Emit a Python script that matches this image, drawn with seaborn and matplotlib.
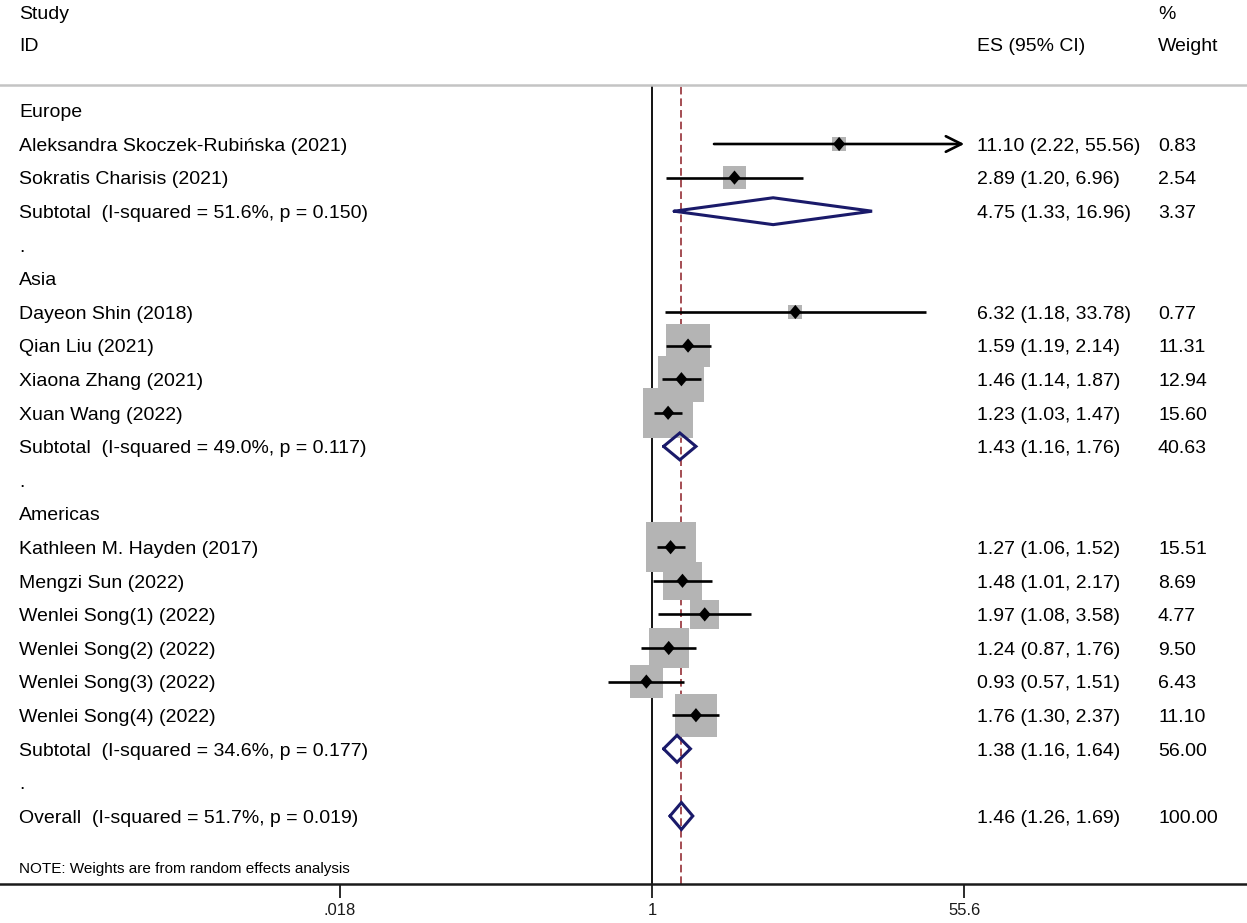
import numpy as np
import pandas as pd
import matplotlib
matplotlib.use("Agg")
import matplotlib.pyplot as plt
import seaborn as sns

# ---- data ----
groups = ["Europe", "Asia", "Americas"]

study_ids = [
    ["Aleksandra Skoczek-Rubińska (2021)", "Sokratis Charisis (2021)"],
    ["Dayeon Shin (2018)", "Qian Liu (2021)", "Xiaona Zhang (2021)", "Xuan Wang (2022)"],
    ["Kathleen M. Hayden (2017)", "Mengzi Sun (2022)", "Wenlei Song(1) (2022)",
     "Wenlei Song(2) (2022)", "Wenlei Song(3) (2022)", "Wenlei Song(4) (2022)"],
]
study_es = [[11.10, 2.89], [6.32, 1.59, 1.46, 1.23], [1.27, 1.48, 1.97, 1.24, 0.93, 1.76]]
study_lo = [[2.22, 1.20], [1.18, 1.19, 1.14, 1.03], [1.06, 1.01, 1.08, 0.87, 0.57, 1.30]]
study_hi = [[55.56, 6.96], [33.78, 2.14, 1.87, 1.47], [1.52, 2.17, 3.58, 1.76, 1.51, 2.37]]
study_w = [[0.83, 2.54], [0.77, 11.31, 12.94, 15.60], [15.51, 8.69, 4.77, 9.50, 6.43, 11.10]]

sub_i2 = ["51.6%", "49.0%", "34.6%"]
sub_p = ["0.150", "0.117", "0.177"]
sub_es = [4.75, 1.43, 1.38]
sub_lo = [1.33, 1.16, 1.16]
sub_hi = [16.96, 1.76, 1.64]
sub_w = [3.37, 40.63, 56.00]

overall_i2 = "51.7%"
overall_p = "0.019"
overall_es = 1.46
overall_lo = 1.26
overall_hi = 1.69
overall_w = 100.00

x_ticks = [0.018, 1, 55.6]
x_ticklabels = [".018", "1", "55.6"]
note = "NOTE: Weights are from random effects analysis"

# ---- build the row table ----
rows = []
r = 0
for g in range(len(groups)):
    rows.append(dict(row=r, kind="header", label=groups[g]))
    r += 1
    for i in range(len(study_ids[g])):
        rows.append(dict(row=r, kind="study", label=study_ids[g][i], es=study_es[g][i],
                         lo=study_lo[g][i], hi=study_hi[g][i], w=study_w[g][i]))
        r += 1
    rows.append(dict(row=r, kind="sub",
                     label=f"Subtotal  (I-squared = {sub_i2[g]}, p = {sub_p[g]})",
                     es=sub_es[g], lo=sub_lo[g], hi=sub_hi[g], w=sub_w[g]))
    r += 1
    rows.append(dict(row=r, kind="blank", label="."))
    r += 1
rows.append(dict(row=r, kind="sub",
                 label=f"Overall  (I-squared = {overall_i2}, p = {overall_p})",
                 es=overall_es, lo=overall_lo, hi=overall_hi, w=overall_w))
df = pd.DataFrame(rows)
n_last = r
studies = df[df.kind == "study"].copy()
subs = df[df.kind == "sub"]

# square side grows with sqrt(weight); small boxes keep a minimum size
side_pt = (4.0 + 11.64 * np.sqrt(studies.w)) * 0.72
studies["box"] = side_pt ** 2

# ---- figure ----
sns.set_theme(style="white")
plt.rcParams["font.family"] = ["Liberation Sans", "DejaVu Sans"]

W, H = 1247, 923
fig = plt.figure(figsize=(W / 100, H / 100), dpi=100)
top_px, bot_px = 85, 884
ax = fig.add_axes([0, 1 - bot_px / H, 1, (bot_px - top_px) / H])

row0_px, row_step = 110.4, 33.6
ax.set_ylim((bot_px - row0_px) / row_step, (top_px - row0_px) / row_step)
one_px, px_dec = 652, 179
ax.set_xscale("log")
ax.set_xlim(10 ** (-one_px / px_dec), 10 ** ((W - one_px) / px_dec))

# reference lines
ax.axvline(1, color="black", lw=1.3, zorder=1)
ax.axvline(overall_es, color="#8c1c24", lw=1.1, dashes=(5, 2.6), zorder=1)

# weight squares
sns.scatterplot(data=studies, x="es", y="row", size="box",
                sizes=(studies.box.min(), studies.box.max()),
                marker="s", color="#b4b4b4", edgecolor="none", linewidth=0,
                legend=False, ax=ax, zorder=2)

# confidence intervals
arrow_lim = x_ticks[-1] * 0.99
for _, s in studies.iterrows():
    if s.hi >= arrow_lim:
        ax.annotate("", xy=(s.hi, s.row), xytext=(s.lo, s.row),
                    arrowprops=dict(arrowstyle="->", lw=1.9, color="black",
                                    mutation_scale=28, shrinkA=0, shrinkB=0),
                    zorder=3)
    else:
        ax.hlines(s.row, s.lo, s.hi, color="black", lw=1.9, zorder=3)

point_marker = [(0, 1), (0.85, 0), (0, -1), (-0.85, 0), (0, 1)]
sns.scatterplot(data=studies, x="es", y="row", marker=point_marker, color="black",
                s=105, edgecolor="none", linewidth=0, legend=False, ax=ax, zorder=4)

# pooled diamonds
h = 0.4
for _, s in subs.iterrows():
    ax.plot([s.lo, s.es, s.hi, s.es, s.lo], [s.row, s.row - h, s.row, s.row + h, s.row],
            color="#1a1a6a", lw=2.2, zorder=4, solid_joinstyle="miter")

# axis styling (after seaborn, which sets its own labels)
ax.set_xlabel("")
ax.set_ylabel("")
for s in ["left", "right"]:
    ax.spines[s].set_visible(False)
ax.spines["top"].set_color("#c4c4c4")
ax.spines["top"].set_linewidth(1.8)
ax.spines["bottom"].set_color("#1a1a1a")
ax.spines["bottom"].set_linewidth(1.8)
ax.set_xticks(x_ticks)
ax.set_xticklabels(x_ticklabels)
ax.minorticks_off()
ax.tick_params(axis="x", bottom=True, length=10, width=1.3, pad=3.5, labelsize=12, colors="#1a1a1a")
ax.set_yticks([])

# ---- text columns ----
x_id = 19 / W
x_es = 977 / W
x_w = 1158 / W
fs = 14
dy = 0.07
tr = ax.get_yaxis_transform()
txt = dict(transform=tr, va="center", ha="left", fontsize=fs, color="black", clip_on=False)

hdr_study = (12 - row0_px) / row_step
hdr_id = (44 - row0_px) / row_step
ax.text(x_id, hdr_study + dy, "Study", **txt)
ax.text(x_id, hdr_id + dy, "ID", **txt)
ax.text(x_w, hdr_study + dy, "%", **txt)
ax.text(x_es, hdr_id + dy, "ES (95% CI)", **txt)
ax.text(x_w, hdr_id + dy, "Weight", **txt)

for _, s in df.iterrows():
    ax.text(x_id, s.row + dy, s.label, **txt)
    if s.kind in ("study", "sub"):
        ax.text(x_es, s.row + dy, f"{s.es:.2f} ({s.lo:.2f}, {s.hi:.2f})", **txt)
        ax.text(x_w, s.row + dy, f"{s.w:.2f}", **txt)

ax.text(x_id, n_last + 1.5 + dy, note, transform=tr, va="center", ha="left",
        fontsize=11, color="black")

fig.savefig("out.png", dpi=100)
